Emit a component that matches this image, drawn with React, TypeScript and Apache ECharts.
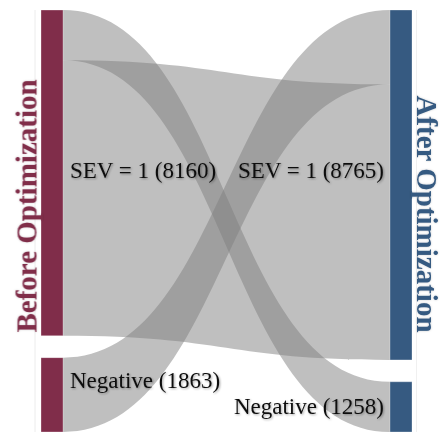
import React, { useEffect, useRef } from "react";
import * as echarts from "echarts";

// ---- data ----
const stageNames = ["Before Optimization", "After Optimization"];
const leftNodeNames = ["SEV = 1", "Negative"];
const leftNodeValues = [8160, 1863];
const rightNodeNames = ["SEV = 1", "Negative"];
const rightNodeValues = [8765, 1258];
// flows: left node index -> right node index
const flowSource = [0, 0, 1];
const flowTarget = [1, 0, 0];
const flowValue = [1258, 6902, 1863];

// ---- style / layout constants ----
const GAP_UNITS = 548;
const NODE_W = 22;
const LEFT_COLOR = "#802d4a";
const RIGHT_COLOR = "#365a81";
const LINK_COLOR = "#808080";
const LABEL_FONT = "23px 'Liberation Serif', 'Times New Roman', serif";
const TITLE_FONT = "bold 29px 'Liberation Serif', 'Times New Roman', serif";
const leftLabelNudge = [-2, -14];
const rightLabelNudge = [-14, 0];

const TOTAL = leftNodeValues.reduce((a, b) => a + b, 0) + GAP_UNITS;

function stack(values: number[]) {
  const out: number[][] = [];
  let acc = 0;
  values.forEach((v) => {
    out.push([acc, acc + v]);
    acc += v + GAP_UNITS;
  });
  return out;
}

export default function App() {
  const ref = useRef<HTMLDivElement>(null);
  useEffect(() => {
    if (!ref.current) return;
    const chart = echarts.init(ref.current, undefined, { renderer: "svg" });
    const renderItem = (params: any, api: any) => {
      const xL = api.coord([0, 0])[0];
      const xR = api.coord([1, 0])[0];
      const yAt = (v: number) => api.coord([0, v])[1];
      const leftY = stack(leftNodeValues);
      const rightY = stack(rightNodeValues);
      const children: any[] = [];

      // faint guide lines beside the node columns
      children.push({
        type: "line",
        shape: { x1: xL - 6, y1: yAt(0), x2: xL - 6, y2: 432 },
        style: { stroke: "#ececec", lineWidth: 1 },
      });
      children.push({
        type: "line",
        shape: { x1: xR + 4.5, y1: yAt(0), x2: xR + 4.5, y2: 432 },
        style: { stroke: "#f0f0f0", lineWidth: 1 },
      });

      // link ordering
      const srcStart: number[] = [];
      const tgtStart: number[] = [];
      leftNodeValues.forEach((_, i) => {
        const idx = flowValue.map((_, k) => k).filter((k) => flowSource[k] === i);
        idx.sort((a, b) => flowTarget[b] - flowTarget[a]);
        let acc = leftY[i][0];
        idx.forEach((k) => {
          srcStart[k] = acc;
          acc += flowValue[k];
        });
      });
      rightNodeValues.forEach((_, j) => {
        const idx = flowValue.map((_, k) => k).filter((k) => flowTarget[k] === j);
        idx.sort((a, b) => flowSource[b] - flowSource[a]);
        let acc = rightY[j][0];
        idx.forEach((k) => {
          tgtStart[k] = acc;
          acc += flowValue[k];
        });
      });

      const x0 = xL + NODE_W;
      const x1 = xR - NODE_W;
      const xm = (x0 + x1) / 2;
      flowValue.forEach((v, k) => {
        const s0 = yAt(srcStart[k]);
        const s1 = yAt(srcStart[k] + v);
        const t0 = yAt(tgtStart[k]);
        const t1 = yAt(tgtStart[k] + v);
        const d = `M${x0},${s0} C${xm},${s0} ${xm},${t0} ${x1},${t0} L${x1},${t1} C${xm},${t1} ${xm},${s1} ${x0},${s1} Z`;
        children.push({
          type: "path",
          shape: { pathData: d },
          style: { fill: LINK_COLOR, opacity: 0.5 },
        });
      });

      leftY.forEach((r, i) => {
        const y0 = yAt(r[0]);
        const y1 = yAt(r[1]);
        children.push({
          type: "rect",
          shape: { x: xL, y: y0, width: NODE_W, height: y1 - y0 },
          style: { fill: LEFT_COLOR, stroke: "rgba(255,255,255,0.3)", lineWidth: 1 },
        });
        children.push({
          type: "text",
          x: xL + NODE_W + 7,
          y: (y0 + y1) / 2 + leftLabelNudge[i],
          style: {
            text: `${leftNodeNames[i]} (${leftNodeValues[i]})`,
            font: LABEL_FONT,
            fill: "#111",
            align: "left",
            verticalAlign: "middle",
            textShadowColor: "rgba(0,0,0,0.35)",
            textShadowBlur: 2,
            textShadowOffsetX: 1,
            textShadowOffsetY: 1,
          },
        });
      });
      rightY.forEach((r, j) => {
        const y0 = yAt(r[0]);
        const y1 = yAt(r[1]);
        children.push({
          type: "rect",
          shape: { x: xR - NODE_W, y: y0, width: NODE_W, height: y1 - y0 },
          style: { fill: RIGHT_COLOR, stroke: "rgba(255,255,255,0.3)", lineWidth: 1 },
        });
        children.push({
          type: "text",
          x: xR - NODE_W - 6,
          y: (y0 + y1) / 2 + rightLabelNudge[j],
          style: {
            text: `${rightNodeNames[j]} (${rightNodeValues[j]})`,
            font: LABEL_FONT,
            fill: "#111",
            align: "right",
            verticalAlign: "middle",
            textShadowColor: "rgba(0,0,0,0.35)",
            textShadowBlur: 2,
            textShadowOffsetX: 1,
            textShadowOffsetY: 1,
          },
        });
      });

      // stage titles
      children.push({
        type: "text",
        x: xL - 14.5,
        y: 206,
        rotation: Math.PI / 2,
        style: {
          text: stageNames[0],
          font: TITLE_FONT,
          fill: LEFT_COLOR,
          align: "center",
          verticalAlign: "middle",
          textShadowColor: "rgba(0,0,0,0.2)",
          textShadowBlur: 2,
        },
      });
      children.push({
        type: "text",
        x: xR + 15,
        y: 214,
        rotation: -Math.PI / 2,
        style: {
          text: stageNames[1],
          font: TITLE_FONT,
          fill: RIGHT_COLOR,
          align: "center",
          verticalAlign: "middle",
          textShadowColor: "rgba(0,0,0,0.2)",
          textShadowBlur: 2,
        },
      });
      return { type: "group", children };
    };

    chart.setOption({
      animation: false,
      backgroundColor: "#ffffff",
      grid: { left: 41, right: 32, top: 10, bottom: -2 },
      xAxis: { type: "value", min: 0, max: 1, show: false },
      yAxis: { type: "value", min: 0, max: TOTAL, inverse: true, show: false },
      series: [
        {
          type: "custom",
          renderItem,
          data: [[0, 0]],
          clip: false,
        },
      ],
    });
    return () => chart.dispose();
  }, []);
  return (
    <div
      ref={ref}
      style={{ position: "fixed", left: 0, top: 0, width: 444, height: 432 }}
    />
  );
}
